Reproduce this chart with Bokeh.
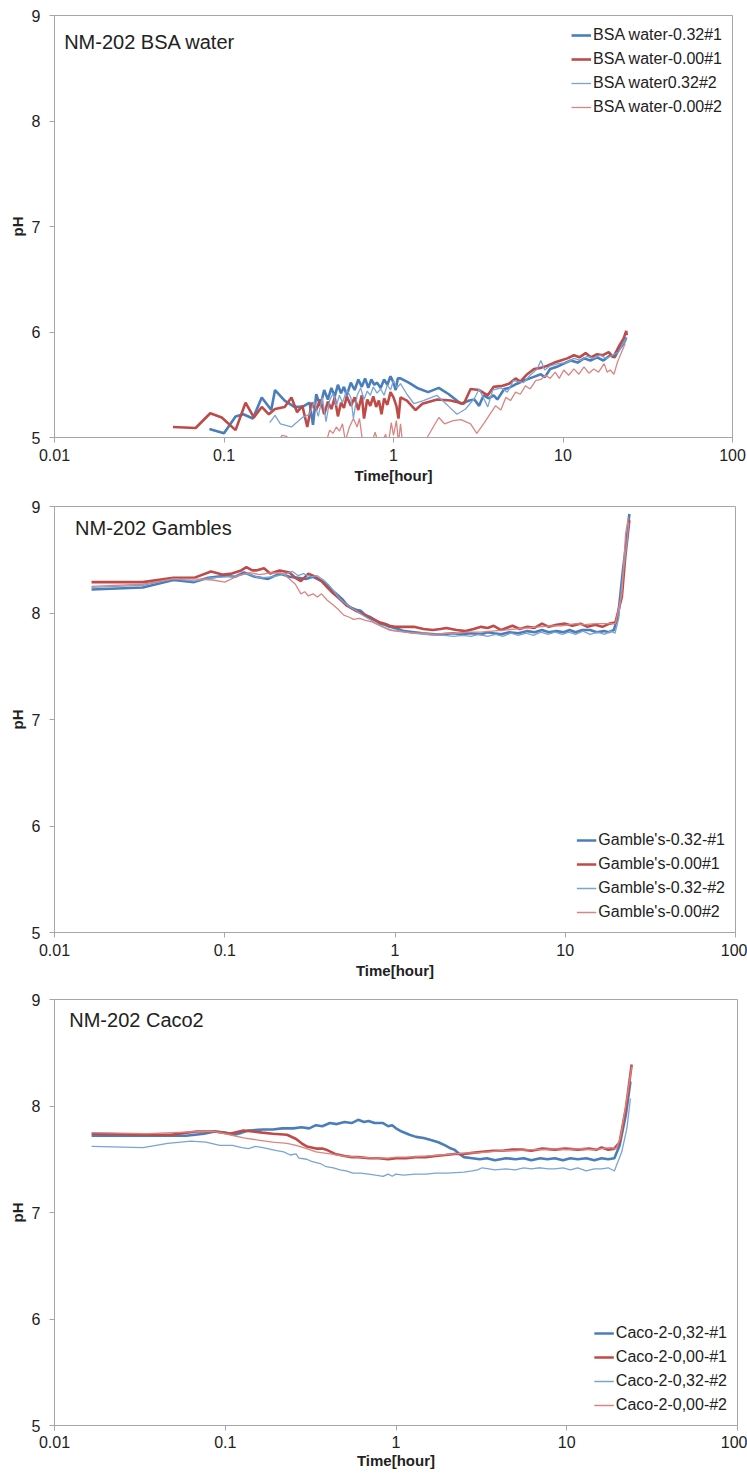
from bokeh.plotting import figure
from bokeh.layouts import column
from bokeh.models import Range1d, FixedTicker, CustomJSTickFormatter, Label
from bokeh.embed import file_html
from bokeh.resources import INLINE

FONT = "Liberation Sans"

# ---------------- Data (time [hour], pH) ----------------
x_ticks = [0.01, 0.1, 1, 10, 100]
y_ticks = [5, 6, 7, 8, 9]

# Panel 1: NM-202 BSA water
bsa_labels = ["BSA water-0.32#1", "BSA water-0.00#1", "BSA water0.32#2", "BSA water-0.00#2"]
bsa_032_1 = [(0.082, 5.08), (0.1, 5.04), (0.117, 5.20), (0.13, 5.22), (0.148, 5.18), (0.167, 5.38), (0.19, 5.26),
             (0.2, 5.45), (0.228, 5.35), (0.26, 5.29), (0.29, 5.29), (0.32, 5.33), (0.335, 5.12), (0.35, 5.41),
             (0.37, 5.30), (0.39, 5.45), (0.41, 5.36), (0.43, 5.47), (0.45, 5.39), (0.47, 5.50), (0.49, 5.42),
             (0.51, 5.48), (0.53, 5.40), (0.56, 5.52), (0.59, 5.45), (0.62, 5.55), (0.65, 5.48), (0.68, 5.56),
             (0.71, 5.47), (0.74, 5.55), (0.77, 5.50), (0.8, 5.52), (0.84, 5.47), (0.88, 5.55), (0.92, 5.50),
             (0.96, 5.58), (1.0, 5.52), (1.03, 5.45), (1.06, 5.56), (1.1, 5.56), (1.23, 5.52), (1.38, 5.47),
             (1.6, 5.43), (1.85, 5.47), (2.12, 5.41), (2.5, 5.32), (2.8, 5.35), (3.0, 5.36), (3.2, 5.30),
             (3.4, 5.40), (3.65, 5.37), (3.9, 5.40), (4.1, 5.36), (4.5, 5.46), (4.8, 5.47), (5.35, 5.51),
             (5.9, 5.54), (6.6, 5.57), (7.4, 5.60), (7.8, 5.57), (8.4, 5.65), (9.2, 5.67), (10.1, 5.70),
             (11.1, 5.73), (12.2, 5.71), (13.3, 5.75), (14.5, 5.73), (15.9, 5.76), (17.3, 5.73), (19.0, 5.78),
             (20.2, 5.76), (21.3, 5.83), (22.3, 5.87), (23.3, 5.92), (23.6, 5.95)]
bsa_000_1 = [(0.050, 5.10), (0.068, 5.09), (0.083, 5.23), (0.097, 5.19), (0.117, 5.07), (0.134, 5.33), (0.15, 5.19),
             (0.167, 5.29), (0.184, 5.22), (0.2, 5.27), (0.228, 5.29), (0.25, 5.38), (0.27, 5.24), (0.29, 5.30),
             (0.31, 5.10), (0.33, 5.33), (0.35, 5.26), (0.37, 5.36), (0.39, 5.22), (0.41, 5.34), (0.43, 5.27),
             (0.45, 5.38), (0.47, 5.20), (0.49, 5.33), (0.51, 5.28), (0.53, 5.39), (0.56, 5.30), (0.59, 5.38),
             (0.62, 5.26), (0.65, 5.40), (0.67, 5.18), (0.70, 5.36), (0.73, 5.30), (0.76, 5.39), (0.79, 5.29),
             (0.82, 5.35), (0.85, 5.22), (0.88, 5.37), (0.92, 5.31), (0.96, 5.43), (1.0, 5.38), (1.04, 5.30),
             (1.07, 5.18), (1.1, 5.38), (1.2, 5.35), (1.35, 5.26), (1.48, 5.32), (1.81, 5.36), (2.17, 5.35),
             (2.6, 5.32), (2.85, 5.46), (3.2, 5.45), (3.6, 5.40), (3.9, 5.48), (4.4, 5.49), (4.8, 5.51),
             (5.25, 5.56), (5.6, 5.53), (6.15, 5.60), (6.75, 5.65), (7.4, 5.66), (8.1, 5.68), (8.9, 5.71),
             (9.7, 5.73), (10.6, 5.75), (11.6, 5.78), (12.5, 5.76), (13.6, 5.80), (14.6, 5.76), (15.9, 5.79),
             (17.2, 5.78), (18.6, 5.81), (19.8, 5.76), (21.3, 5.86), (22.8, 5.94), (23.6, 6.01), (23.8, 5.97)]
bsa_032_2 = [(0.186, 5.14), (0.2, 5.21), (0.215, 5.13), (0.25, 5.10), (0.29, 5.19), (0.32, 5.22), (0.34, 5.34),
             (0.36, 5.20), (0.38, 5.38), (0.40, 5.15), (0.42, 5.35), (0.44, 5.42), (0.46, 5.30), (0.48, 5.40),
             (0.50, 5.33), (0.53, 5.45), (0.56, 5.38), (0.58, 5.18), (0.61, 5.40), (0.64, 5.47), (0.67, 5.36),
             (0.70, 5.44), (0.73, 5.40), (0.76, 5.48), (0.80, 5.42), (0.84, 5.46), (0.88, 5.40), (0.92, 5.50),
             (0.96, 5.45), (1.0, 5.54), (1.05, 5.47), (1.1, 5.51), (1.2, 5.41), (1.32, 5.32), (1.5, 5.35),
             (1.8, 5.40), (2.1, 5.30), (2.37, 5.22), (2.66, 5.27), (3.0, 5.37), (3.2, 5.46), (3.6, 5.29),
             (3.85, 5.45), (4.3, 5.47), (4.7, 5.43), (5.1, 5.54), (5.85, 5.52), (6.4, 5.59), (7.05, 5.65),
             (7.4, 5.73), (7.8, 5.64), (8.4, 5.68), (9.4, 5.70), (10.5, 5.71), (11.6, 5.75), (12.7, 5.73),
             (13.9, 5.77), (15.1, 5.75), (16.6, 5.78), (18.0, 5.75), (19.6, 5.78), (21.3, 5.81), (22.6, 5.89),
             (23.6, 5.94)]
bsa_000_2 = [(0.20, 4.92), (0.22, 5.02), (0.235, 5.01), (0.25, 4.90), (0.40, 4.95), (0.42, 5.07), (0.44, 5.04),
             (0.46, 5.10), (0.48, 5.06), (0.50, 5.13), (0.52, 4.97), (0.55, 5.10), (0.58, 5.18), (0.61, 5.10),
             (0.63, 5.18), (0.66, 4.94), (0.70, 4.90), (0.75, 4.97), (0.78, 5.05), (0.81, 4.95), (0.86, 4.97),
             (0.90, 5.03), (0.93, 4.92), (0.97, 5.14), (1.0, 5.02), (1.04, 5.16), (1.07, 4.95), (1.1, 5.13),
             (1.14, 4.90), (1.5, 4.92), (1.58, 5.0), (1.85, 5.19), (2.0, 5.13), (2.25, 5.16), (2.5, 5.17),
             (2.85, 5.13), (3.1, 5.04), (3.4, 5.13), (3.7, 5.22), (4.0, 5.30), (4.3, 5.26), (4.6, 5.38),
             (4.9, 5.35), (5.25, 5.43), (5.6, 5.41), (6.0, 5.49), (6.4, 5.46), (6.9, 5.54), (7.4, 5.55),
             (7.9, 5.59), (8.4, 5.56), (9.0, 5.62), (9.5, 5.56), (10.1, 5.64), (10.8, 5.59), (11.6, 5.65),
             (12.4, 5.60), (13.3, 5.67), (14.2, 5.61), (15.2, 5.65), (16.2, 5.62), (17.5, 5.70), (18.2, 5.62),
             (19.0, 5.64), (20.0, 5.60), (20.9, 5.71), (22.3, 5.82), (23.3, 5.89)]

# Panel 2: NM-202 Gambles
gam_labels = ["Gamble's-0.32-#1", "Gamble's-0.00#1", "Gamble's-0.32-#2", "Gamble's-0.00#2"]
gam_032_1 = [(0.0165, 8.22), (0.033, 8.24), (0.05, 8.31), (0.066, 8.29), (0.08, 8.33), (0.1, 8.35), (0.115, 8.34),
             (0.13, 8.38), (0.15, 8.34), (0.18, 8.32), (0.21, 8.37), (0.24, 8.34), (0.27, 8.33), (0.30, 8.32),
             (0.33, 8.34), (0.36, 8.31), (0.38, 8.29), (0.40, 8.26), (0.43, 8.21), (0.46, 8.17), (0.49, 8.13),
             (0.52, 8.08), (0.55, 8.05), (0.59, 8.03), (0.63, 8.02), (0.67, 7.98), (0.72, 7.96), (0.77, 7.93),
             (0.82, 7.90), (0.87, 7.89), (0.93, 7.87), (1.0, 7.86), (1.13, 7.83), (1.3, 7.82), (1.46, 7.81),
             (1.7, 7.80), (1.9, 7.80), (2.2, 7.81), (2.45, 7.80), (2.8, 7.81), (3.2, 7.80), (3.5, 7.82),
             (3.8, 7.81), (4.2, 7.80), (4.7, 7.82), (5.3, 7.81), (6.0, 7.83), (6.6, 7.82), (7.3, 7.84),
             (8.0, 7.82), (8.9, 7.83), (9.8, 7.82), (10.6, 7.84), (11.5, 7.82), (12.6, 7.84), (14.0, 7.84),
             (15.3, 7.82), (16.9, 7.83), (18.0, 7.82), (19.3, 7.84), (20.5, 7.99), (21.8, 8.40), (23.0, 8.70),
             (23.8, 8.93)]
gam_000_1 = [(0.0165, 8.29), (0.033, 8.29), (0.05, 8.33), (0.066, 8.33), (0.083, 8.39), (0.098, 8.36), (0.11, 8.37),
             (0.125, 8.40), (0.134, 8.43), (0.145, 8.40), (0.153, 8.40), (0.17, 8.42), (0.185, 8.37), (0.21, 8.40),
             (0.24, 8.38), (0.26, 8.33), (0.28, 8.30), (0.31, 8.37), (0.34, 8.34), (0.37, 8.30), (0.40, 8.24),
             (0.43, 8.19), (0.46, 8.15), (0.49, 8.11), (0.52, 8.07), (0.55, 8.05), (0.59, 8.02), (0.63, 8.00),
             (0.67, 7.98), (0.72, 7.95), (0.77, 7.93), (0.82, 7.91), (0.87, 7.90), (0.93, 7.88), (1.0, 7.87),
             (1.13, 7.87), (1.29, 7.87), (1.47, 7.85), (1.67, 7.84), (1.85, 7.85), (2.0, 7.86), (2.3, 7.84),
             (2.6, 7.83), (2.9, 7.85), (3.2, 7.87), (3.5, 7.86), (3.8, 7.88), (4.2, 7.84), (4.9, 7.88),
             (5.4, 7.85), (6.0, 7.87), (6.6, 7.86), (7.3, 7.90), (8.0, 7.87), (8.9, 7.89), (10.0, 7.90),
             (11.0, 7.88), (12.3, 7.90), (13.5, 7.87), (15.0, 7.89), (16.5, 7.87), (18.2, 7.90), (19.7, 7.91),
             (21.5, 8.15), (22.5, 8.52), (23.8, 8.87)]
gam_032_2 = [(0.0165, 8.24), (0.033, 8.26), (0.05, 8.32), (0.066, 8.30), (0.083, 8.33), (0.1, 8.34), (0.12, 8.35),
             (0.135, 8.37), (0.16, 8.33), (0.19, 8.34), (0.22, 8.36), (0.25, 8.39), (0.27, 8.35), (0.29, 8.37),
             (0.32, 8.34), (0.35, 8.35), (0.38, 8.31), (0.41, 8.26), (0.44, 8.20), (0.47, 8.14), (0.50, 8.10),
             (0.54, 8.06), (0.58, 8.03), (0.62, 8.00), (0.66, 7.97), (0.71, 7.94), (0.76, 7.91), (0.82, 7.88),
             (0.88, 7.86), (0.95, 7.84), (1.02, 7.84), (1.15, 7.82), (1.3, 7.81), (1.5, 7.80), (1.7, 7.79),
             (1.95, 7.79), (2.2, 7.78), (2.5, 7.79), (2.8, 7.78), (3.1, 7.80), (3.5, 7.78), (3.9, 7.80),
             (4.3, 7.78), (4.8, 7.81), (5.3, 7.79), (5.9, 7.81), (6.5, 7.79), (7.2, 7.82), (7.9, 7.80),
             (8.7, 7.82), (9.6, 7.80), (10.5, 7.82), (11.5, 7.80), (12.7, 7.83), (14.0, 7.80), (15.5, 7.82),
             (17.0, 7.80), (18.5, 7.83), (19.6, 7.81), (20.6, 7.95), (21.8, 8.35), (23.0, 8.65), (23.6, 8.85)]
gam_000_2 = [(0.0165, 8.25), (0.033, 8.27), (0.05, 8.32), (0.066, 8.32), (0.085, 8.31), (0.1, 8.29), (0.12, 8.35),
             (0.14, 8.38), (0.16, 8.36), (0.19, 8.38), (0.22, 8.37), (0.24, 8.32), (0.26, 8.27), (0.28, 8.18),
             (0.295, 8.20), (0.31, 8.16), (0.33, 8.18), (0.35, 8.15), (0.37, 8.18), (0.40, 8.12), (0.43, 8.08),
             (0.46, 8.04), (0.50, 7.98), (0.54, 7.96), (0.57, 7.94), (0.62, 7.95), (0.67, 7.93), (0.72, 7.92),
             (0.77, 7.90), (0.82, 7.88), (0.87, 7.86), (0.93, 7.84), (1.0, 7.83), (1.15, 7.82), (1.3, 7.81),
             (1.5, 7.81), (1.67, 7.80), (2.0, 7.81), (2.3, 7.81), (2.7, 7.82), (3.2, 7.82), (3.7, 7.83),
             (4.4, 7.84), (5.2, 7.85), (6.0, 7.86), (7.0, 7.87), (8.3, 7.88), (9.5, 7.88), (11.5, 7.90),
             (13.0, 7.89), (15.0, 7.90), (18.0, 7.90), (19.7, 7.90), (21.5, 8.18), (22.6, 8.74), (23.5, 8.90)]

# Panel 3: NM-202 Caco2
caco_labels = ["Caco-2-0,32-#1", "Caco-2-0,00-#1", "Caco-2-0,32-#2", "Caco-2-0,00-#2"]
caco_032_1 = [(0.0165, 7.72), (0.035, 7.72), (0.059, 7.72), (0.075, 7.74), (0.087, 7.76), (0.1, 7.75), (0.113, 7.73),
              (0.125, 7.75), (0.137, 7.77), (0.166, 7.78), (0.19, 7.78), (0.215, 7.79), (0.25, 7.79), (0.28, 7.80),
              (0.31, 7.79), (0.34, 7.82), (0.37, 7.81), (0.41, 7.84), (0.45, 7.83), (0.5, 7.85), (0.55, 7.84),
              (0.6, 7.87), (0.65, 7.85), (0.69, 7.86), (0.75, 7.84), (0.84, 7.84), (0.9, 7.81), (0.95, 7.82),
              (1.0, 7.79), (1.08, 7.76), (1.2, 7.73), (1.31, 7.71), (1.45, 7.70), (1.6, 7.68), (1.77, 7.66),
              (1.94, 7.63), (2.1, 7.60), (2.2, 7.59), (2.35, 7.55), (2.5, 7.52), (2.8, 7.51), (3.1, 7.50),
              (3.4, 7.51), (3.8, 7.49), (4.4, 7.51), (5.0, 7.50), (5.6, 7.51), (6.2, 7.49), (7.0, 7.51),
              (7.7, 7.50), (8.5, 7.51), (9.5, 7.49), (10.5, 7.51), (11.6, 7.50), (13.0, 7.51), (14.5, 7.49),
              (16.0, 7.51), (17.5, 7.50), (19.0, 7.51), (20.4, 7.63), (22.2, 7.92), (23.6, 8.23)]
caco_000_1 = [(0.0165, 7.74), (0.035, 7.73), (0.048, 7.73), (0.068, 7.76), (0.087, 7.76), (0.106, 7.74), (0.128, 7.77),
              (0.145, 7.76), (0.165, 7.75), (0.19, 7.74), (0.23, 7.73), (0.26, 7.69), (0.28, 7.65), (0.30, 7.62),
              (0.32, 7.61), (0.34, 7.60), (0.37, 7.60), (0.39, 7.59), (0.44, 7.55), (0.5, 7.53), (0.55, 7.52),
              (0.6, 7.52), (0.7, 7.51), (0.79, 7.51), (0.9, 7.50), (1.0, 7.51), (1.15, 7.51), (1.3, 7.52),
              (1.5, 7.52), (1.7, 7.53), (1.95, 7.54), (2.2, 7.55), (2.5, 7.55), (2.8, 7.56), (3.2, 7.57),
              (3.7, 7.58), (4.2, 7.58), (4.8, 7.59), (5.5, 7.59), (6.2, 7.58), (7.2, 7.60), (8.5, 7.59),
              (9.8, 7.60), (11.6, 7.59), (13.5, 7.60), (15.0, 7.59), (16.0, 7.61), (17.5, 7.59), (19.0, 7.60),
              (20.4, 7.66), (22.2, 7.98), (24.0, 8.39)]
caco_032_2 = [(0.0165, 7.62), (0.033, 7.61), (0.046, 7.65), (0.063, 7.67), (0.077, 7.66), (0.093, 7.63), (0.11, 7.63),
              (0.125, 7.61), (0.137, 7.60), (0.15, 7.62), (0.166, 7.61), (0.2, 7.58), (0.22, 7.57), (0.24, 7.54),
              (0.26, 7.55), (0.27, 7.51), (0.3, 7.50), (0.32, 7.48), (0.36, 7.46), (0.39, 7.43), (0.43, 7.42),
              (0.47, 7.40), (0.51, 7.39), (0.56, 7.37), (0.62, 7.37), (0.69, 7.36), (0.76, 7.35), (0.84, 7.34),
              (0.9, 7.36), (0.95, 7.34), (1.0, 7.36), (1.1, 7.35), (1.3, 7.36), (1.5, 7.36), (1.7, 7.37),
              (2.0, 7.37), (2.5, 7.38), (2.8, 7.39), (3.0, 7.40), (3.2, 7.42), (3.5, 7.41), (3.8, 7.40),
              (4.4, 7.41), (5.0, 7.40), (5.6, 7.42), (6.2, 7.41), (7.0, 7.42), (7.8, 7.41), (8.5, 7.41),
              (9.5, 7.42), (10.5, 7.40), (11.6, 7.42), (13.0, 7.39), (14.5, 7.41), (16.0, 7.41), (17.5, 7.42),
              (19.0, 7.39), (21.0, 7.57), (22.5, 7.79), (23.6, 8.07)]
caco_000_2 = [(0.0165, 7.75), (0.035, 7.74), (0.068, 7.76), (0.087, 7.76), (0.106, 7.73), (0.128, 7.70), (0.156, 7.68),
              (0.19, 7.66), (0.23, 7.65), (0.26, 7.63), (0.3, 7.60), (0.34, 7.57), (0.41, 7.55), (0.5, 7.53),
              (0.6, 7.52), (0.75, 7.51), (0.9, 7.51), (1.0, 7.52), (1.2, 7.52), (1.5, 7.53), (1.8, 7.54),
              (2.2, 7.55), (2.6, 7.56), (3.0, 7.56), (3.5, 7.57), (4.2, 7.58), (5.0, 7.58), (6.0, 7.59),
              (7.2, 7.59), (8.5, 7.60), (10.0, 7.59), (12.0, 7.60), (14.0, 7.59), (16.0, 7.60), (18.0, 7.61),
              (19.5, 7.60), (20.6, 7.70), (22.4, 8.05), (24.0, 8.37)]

# ---------------- Styling ----------------
COLORS = ["#4a7ebb", "#be4b48", "#7aa3d6", "#d98583"]
WIDTHS = [2.6, 2.6, 1.3, 1.3]
AXIS_GRAY = "#a6a6a6"
TEXT = "#222222"


def make_panel(title, title_xy, series, labels, left, top, frame_w, frame_h, bottom,
               legend_loc, legend_pad, tick_standoff, axlabel_standoff):
    p = figure(x_axis_type="log", x_range=Range1d(0.01, 100), y_range=Range1d(5, 9),
               frame_width=frame_w, frame_height=frame_h,
               min_border_left=left, min_border_right=15, min_border_top=top, min_border_bottom=bottom,
               output_backend="svg", toolbar_location=None, background_fill_color="white")
    p.xgrid.visible = False
    p.ygrid.visible = False
    p.outline_line_color = AXIS_GRAY
    p.outline_line_width = 1

    for data, lab, col, w in zip(series, labels, COLORS, WIDTHS):
        xs = [d[0] for d in data]
        ys = [d[1] for d in data]
        p.line(xs, ys, line_color=col, line_width=w, legend_label=lab)

    p.xaxis.ticker = FixedTicker(ticks=x_ticks, minor_ticks=[])
    p.xaxis.formatter = CustomJSTickFormatter(code="return String(tick);")
    p.yaxis.ticker = FixedTicker(ticks=y_ticks, minor_ticks=[])
    p.xaxis.axis_label = "Time[hour]"
    p.yaxis.axis_label = "pH"
    for ax in (p.xaxis, p.yaxis):
        ax.axis_line_color = AXIS_GRAY
        ax.major_tick_line_color = AXIS_GRAY
        ax.major_tick_in = 0
        ax.major_tick_out = 5
        ax.minor_tick_line_color = None
        ax.major_label_text_font = FONT
        ax.major_label_text_font_size = "16px"
        ax.major_label_text_color = TEXT
        ax.axis_label_text_font = FONT
        ax.axis_label_text_font_size = "15px"
        ax.axis_label_text_font_style = "bold"
        ax.axis_label_text_color = TEXT
    p.xaxis.major_label_standoff = tick_standoff
    p.xaxis.axis_label_standoff = axlabel_standoff
    p.yaxis.major_label_standoff = 9
    p.yaxis.axis_label_standoff = 3

    p.add_layout(Label(x=title_xy[0], y=title_xy[1], text=title, text_font=FONT,
                       text_font_size="20px", text_color=TEXT, text_baseline="middle",
                       text_align="left"))

    lg = p.legend[0]
    lg.location = legend_loc
    lg.label_text_font = FONT
    lg.label_text_font_size = "16px"
    lg.label_text_color = TEXT
    lg.glyph_width = 20
    lg.glyph_height = 20
    lg.label_height = 20
    lg.label_standoff = 2
    lg.spacing = 4
    lg.padding = legend_pad
    lg.margin = 10
    lg.border_line_color = None
    lg.background_fill_alpha = 0
    return p


p1 = make_panel("NM-202 BSA  water", (0.0114, 8.75),
                [bsa_032_1, bsa_000_1, bsa_032_2, bsa_000_2], bsa_labels,
                left=54, top=15, frame_w=678, frame_h=422, bottom=61,
                legend_loc="top_right", legend_pad=10, tick_standoff=6, axlabel_standoff=3)
p2 = make_panel("NM-202 Gambles", (0.0132, 8.80),
                [gam_032_1, gam_000_1, gam_032_2, gam_000_2], gam_labels,
                left=51, top=8, frame_w=681, frame_h=426, bottom=58,
                legend_loc="bottom_right", legend_pad=6, tick_standoff=6, axlabel_standoff=3)
p3 = make_panel("NM-202 Caco2", (0.0122, 8.81),
                [caco_032_1, caco_000_1, caco_032_2, caco_000_2], caco_labels,
                left=49, top=9, frame_w=683, frame_h=426, bottom=50,
                legend_loc="bottom_right", legend_pad=6, tick_standoff=5, axlabel_standoff=1)

layout = column(p1, p2, p3, spacing=0)
open("out.html", "w").write(file_html(layout, INLINE))
